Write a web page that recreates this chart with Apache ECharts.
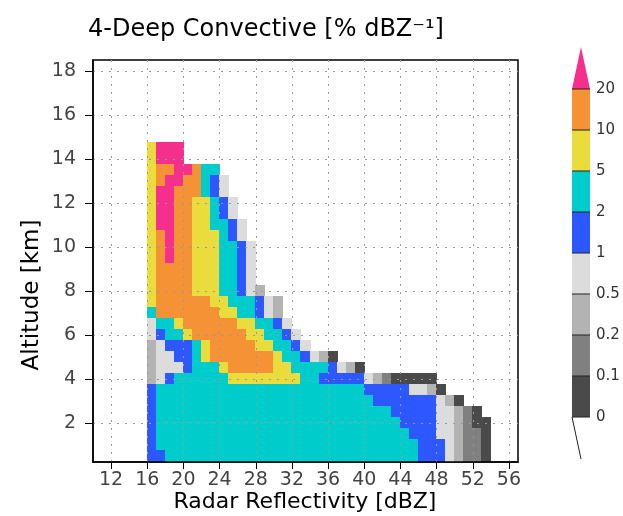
<!DOCTYPE html>
<html>
<head>
<meta charset="utf-8">
<script src="https://cdn.jsdelivr.net/npm/echarts@6/dist/echarts.min.js"></script>
<style>
html,body{margin:0;padding:0;background:#ffffff;}
#chart{width:623px;height:516px;}
</style>
</head>
<body>
<div id="chart"></div>
<script>
// ---------------- data ----------------
const titleText = '4-Deep Convective [% dBZ\u207B\u00B9]';
const xAxisTitle = 'Radar Reflectivity [dBZ]';
const yAxisTitle = 'Altitude [km]';
const xTickValues = [12, 16, 20, 24, 28, 32, 36, 40, 44, 48, 52, 56];
const yTickValues = [2, 4, 6, 8, 10, 12, 14, 16, 18];
const levelBounds = [0, 0.1, 0.2, 0.5, 1, 2, 5, 10, 20];
const levelLabels = ['0', '0.1', '0.2', '0.5', '1', '2', '5', '10', '20'];
const firstBinDbz = 16;     // left edge of the first reflectivity bin (dBZ)
const dbzBinWidth = 1;      // dBZ
const altBinDepth = 0.5;    // km

// frequency (% per dBZ) per altitude level, bins starting at 16 dBZ
const h14p5 = [7, 24, 24, 24];
const h14p0 = [7, 24, 24, 24];
const h13p5 = [7, 14, 14, 24, 24, 14, 3.5, 3.5];
const h13p0 = [7, 14, 24, 24, 14, 14, 3.5, 1.5, 0.7];
const h12p5 = [7, 24, 24, 14, 14, 14, 3.5, 1.5, 0.7];
const h12p0 = [7, 24, 24, 14, 14, 7, 7, 3.5, 1.5, 0.7];
const h11p5 = [7, 24, 24, 14, 14, 7, 7, 3.5, 1.5, 0.7];
const h11p0 = [7, 24, 24, 14, 14, 7, 7, 3.5, 3.5, 1.5, 0.7];
const h10p5 = [7, 14, 24, 14, 14, 7, 7, 7, 3.5, 1.5, 0.7];
const h10p0 = [7, 14, 24, 14, 14, 7, 7, 7, 3.5, 3.5, 1.5, 0.7];
const h9p5  = [7, 14, 24, 14, 14, 7, 7, 7, 3.5, 3.5, 1.5, 0.7];
const h9p0  = [7, 14, 14, 14, 14, 7, 7, 7, 3.5, 3.5, 1.5, 0.7];
const h8p5  = [7, 14, 14, 14, 14, 7, 7, 7, 3.5, 3.5, 1.5, 0.7];
const h8p0  = [7, 14, 14, 14, 14, 7, 7, 7, 3.5, 3.5, 1.5, 0.7, 0.35];
const h7p5  = [7, 14, 14, 14, 14, 14, 14, 7, 7, 3.5, 3.5, 3.5, 1.5, 0.7, 0.35];
const h7p0  = [3.5, 14, 14, 14, 14, 14, 14, 14, 7, 7, 3.5, 3.5, 1.5, 0.7, 0.35];
const h6p5  = [0.7, 3.5, 3.5, 7, 14, 14, 14, 14, 14, 14, 7, 7, 3.5, 3.5, 1.5, 0.7];
const h6p0  = [0.7, 1.5, 3.5, 3.5, 7, 14, 14, 14, 14, 14, 14, 7, 7, 3.5, 3.5, 1.5, 0.7];
const h5p5  = [0.35, 0.7, 1.5, 1.5, 1.5, 3.5, 7, 14, 14, 14, 14, 14, 7, 7, 3.5, 3.5, 1.5, 0.7];
const h5p0  = [0.35, 0.7, 0.7, 1.5, 1.5, 3.5, 7, 14, 14, 14, 14, 14, 14, 14, 7, 3.5, 3.5, 1.5, 0.7, 0.35, 0.05];
const h4p5  = [0.35, 0.7, 0.7, 0.7, 1.5, 3.5, 3.5, 3.5, 7, 14, 14, 14, 14, 14, 7, 7, 3.5, 3.5, 3.5, 3.5, 1.5, 0.7, 0.35, 0.05];
const h4p0  = [0.35, 0.7, 1.5, 3.5, 3.5, 3.5, 3.5, 3.5, 3.5, 7, 7, 7, 7, 7, 7, 7, 7, 3.5, 3.5, 1.5, 1.5, 1.5, 1.5, 1.5, 0.7, 0.35, 0.15, 0.05, 0.05, 0.05, 0.05, 0.05];
const h3p5  = [1.5, 3.5, 3.5, 3.5, 3.5, 3.5, 3.5, 3.5, 3.5, 3.5, 3.5, 3.5, 3.5, 3.5, 3.5, 3.5, 3.5, 3.5, 3.5, 3.5, 3.5, 3.5, 3.5, 3.5, 1.5, 1.5, 1.5, 1.5, 1.5, 0.7, 0.7, 0.35, 0.05];
const h3p0  = [1.5, 3.5, 3.5, 3.5, 3.5, 3.5, 3.5, 3.5, 3.5, 3.5, 3.5, 3.5, 3.5, 3.5, 3.5, 3.5, 3.5, 3.5, 3.5, 3.5, 3.5, 3.5, 3.5, 3.5, 3.5, 1.5, 1.5, 1.5, 1.5, 1.5, 1.5, 1.5, 0.7, 0.35, 0.05];
const h2p5  = [1.5, 3.5, 3.5, 3.5, 3.5, 3.5, 3.5, 3.5, 3.5, 3.5, 3.5, 3.5, 3.5, 3.5, 3.5, 3.5, 3.5, 3.5, 3.5, 3.5, 3.5, 3.5, 3.5, 3.5, 3.5, 3.5, 3.5, 1.5, 1.5, 1.5, 1.5, 1.5, 0.7, 0.7, 0.35, 0.15, 0.05];
const h2p0  = [1.5, 3.5, 3.5, 3.5, 3.5, 3.5, 3.5, 3.5, 3.5, 3.5, 3.5, 3.5, 3.5, 3.5, 3.5, 3.5, 3.5, 3.5, 3.5, 3.5, 3.5, 3.5, 3.5, 3.5, 3.5, 3.5, 3.5, 3.5, 1.5, 1.5, 1.5, 1.5, 0.7, 0.7, 0.35, 0.15, 0.05, 0.05];
const h1p5  = [1.5, 3.5, 3.5, 3.5, 3.5, 3.5, 3.5, 3.5, 3.5, 3.5, 3.5, 3.5, 3.5, 3.5, 3.5, 3.5, 3.5, 3.5, 3.5, 3.5, 3.5, 3.5, 3.5, 3.5, 3.5, 3.5, 3.5, 3.5, 3.5, 1.5, 1.5, 1.5, 0.7, 0.7, 0.35, 0.15, 0.15, 0.05];
const h1p0  = [1.5, 3.5, 3.5, 3.5, 3.5, 3.5, 3.5, 3.5, 3.5, 3.5, 3.5, 3.5, 3.5, 3.5, 3.5, 3.5, 3.5, 3.5, 3.5, 3.5, 3.5, 3.5, 3.5, 3.5, 3.5, 3.5, 3.5, 3.5, 3.5, 3.5, 1.5, 1.5, 1.5, 0.7, 0.35, 0.15, 0.15, 0.05];
const h0p5  = [1.5, 1.5, 3.5, 3.5, 3.5, 3.5, 3.5, 3.5, 3.5, 3.5, 3.5, 3.5, 3.5, 3.5, 3.5, 3.5, 3.5, 3.5, 3.5, 3.5, 3.5, 3.5, 3.5, 3.5, 3.5, 3.5, 3.5, 3.5, 3.5, 3.5, 1.5, 1.5, 1.5, 0.7, 0.35, 0.15, 0.15, 0.05];

const altitudes = [14.5, 14.0, 13.5, 13.0, 12.5, 12.0, 11.5, 11.0, 10.5, 10.0, 9.5, 9.0, 8.5, 8.0, 7.5, 7.0,
                   6.5, 6.0, 5.5, 5.0, 4.5, 4.0, 3.5, 3.0, 2.5, 2.0, 1.5, 1.0, 0.5];
const profiles = [h14p5, h14p0, h13p5, h13p0, h12p5, h12p0, h11p5, h11p0, h10p5, h10p0, h9p5, h9p0, h8p5, h8p0, h7p5, h7p0,
                  h6p5, h6p0, h5p5, h5p0, h4p5, h4p0, h3p5, h3p0, h2p5, h2p0, h1p5, h1p0, h0p5];

// ---------------- styles ----------------
const levelColors = ['#4a4a4a', '#808080', '#b3b3b3', '#dcdcdc', '#2d58ff', '#00cccc', '#e9dc3c', '#f59236', '#f52f8c'];
const fontFamily = '"DejaVu Sans", "Liberation Sans", sans-serif';

// ---------------- build ----------------
const cells = [];
profiles.forEach(function (row, r) {
  row.forEach(function (v, i) {
    if (v !== null && v !== undefined) {
      cells.push([firstBinDbz + (i + 0.5) * dbzBinWidth, altitudes[r], v]);
    }
  });
});

const pieces = levelBounds.map(function (b, i) {
  const p = { gte: b, color: levelColors[i] };
  if (i < levelBounds.length - 1) p.lt = levelBounds[i + 1];
  return p;
});

function renderCell(params, api) {
  const x = api.value(0), y = api.value(1);
  const p0 = api.coord([x - dbzBinWidth / 2, y + altBinDepth / 2]);
  const p1 = api.coord([x + dbzBinWidth / 2, y - altBinDepth / 2]);
  const x0 = Math.floor(p0[0]), y0 = Math.floor(p0[1]);
  const x1 = Math.ceil(p1[0]), y1 = Math.ceil(p1[1]);
  return {
    type: 'rect',
    shape: { x: x0, y: y0, width: x1 - x0, height: y1 - y0 },
    style: { fill: api.visual('color') }
  };
}

// colour bar (legend) built from the level arrays
const barLeft = 572, barTop = 89, barW = 18, segH = 41;
const nLev = levelColors.length; // 9, top one is the arrow
const barBottom = barTop + segH * (nLev - 1);
const legendEls = [];
for (let i = 0; i < nLev - 1; i++) {
  const yTop = barBottom - segH * (i + 1);
  legendEls.push({
    type: 'rect',
    shape: { x: barLeft, y: yTop, width: barW, height: segH },
    style: { fill: levelColors[i], stroke: null }
  });
}
legendEls.push({
  type: 'polygon',
  shape: { points: [[barLeft, barTop], [barLeft + barW, barTop], [barLeft + barW / 2, barTop - 42]] },
  style: { fill: levelColors[nLev - 1] }
});
for (let i = 0; i < nLev; i++) {
  const yb = barBottom - segH * i;
  legendEls.push({
    type: 'line',
    shape: { x1: barLeft, y1: yb, x2: barLeft + barW, y2: yb },
    style: { stroke: '#222', lineWidth: 1 }
  });
  legendEls.push({
    type: 'text',
    style: {
      x: barLeft + barW + 6, y: yb, text: levelLabels[i],
      fontSize: 15, fontFamily: fontFamily, fill: '#333',
      textAlign: 'left', textVerticalAlign: 'middle'
    }
  });
}
legendEls.push({
  type: 'polyline',
  shape: { points: [[barLeft, barBottom], [barLeft + barW / 2, barBottom + 42]] },
  style: { stroke: '#222', lineWidth: 1, fill: null }
});

const chart = echarts.init(document.getElementById('chart'), null, { renderer: 'canvas' });
chart.setOption({
  backgroundColor: '#ffffff',
  animation: false,
  grid: { left: 93, top: 60, width: 425, height: 402, show: true, borderColor: '#000', borderWidth: 1.5, backgroundColor: 'transparent' },
  xAxis: {
    type: 'value', min: 10, max: 57, z: 5,
    axisLine: { show: true, onZero: false, lineStyle: { color: '#000', width: 1.5 } },
    axisTick: { show: true, customValues: xTickValues, length: 7, lineStyle: { color: '#000', width: 1 } },
    axisLabel: { customValues: xTickValues, color: '#444', fontSize: 19, fontFamily: fontFamily, margin: 9 },
    splitLine: { show: true, lineStyle: { color: '#999999', width: 1, type: [2, 6] } }
  },
  yAxis: {
    type: 'value', min: 0.25, max: 18.5, z: 5,
    axisLine: { show: true, onZero: false, lineStyle: { color: '#000', width: 1.5 } },
    axisTick: { show: true, customValues: yTickValues, length: 8, lineStyle: { color: '#000', width: 1 } },
    axisLabel: { customValues: yTickValues, color: '#444', fontSize: 19, fontFamily: fontFamily, margin: 17 },
    splitLine: { show: true, lineStyle: { color: '#999999', width: 1, type: [2, 6] } }
  },
  visualMap: { type: 'piecewise', show: false, dimension: 2, pieces: pieces, seriesIndex: 0 },
  series: [{
    type: 'custom',
    renderItem: renderCell,
    data: cells,
    encode: { x: 0, y: 1 },
    clip: true,
    z: 2
  }],
  graphic: [
    { type: 'text', style: { x: 266, y: 30, text: titleText, fontSize: 24, fontFamily: fontFamily, fill: '#000', textAlign: 'center', textVerticalAlign: 'middle' } },
    { type: 'text', style: { x: 305, y: 502, text: xAxisTitle, fontSize: 22, fontFamily: fontFamily, fill: '#000', textAlign: 'center', textVerticalAlign: 'middle' } },
    { type: 'text', x: 32, y: 295, rotation: Math.PI / 2, style: { x: 0, y: 0, text: yAxisTitle, fontSize: 23, fontFamily: fontFamily, fill: '#000', textAlign: 'center', textVerticalAlign: 'middle' } },
    { type: 'group', children: legendEls }
  ]
});
</script>
</body>
</html>
